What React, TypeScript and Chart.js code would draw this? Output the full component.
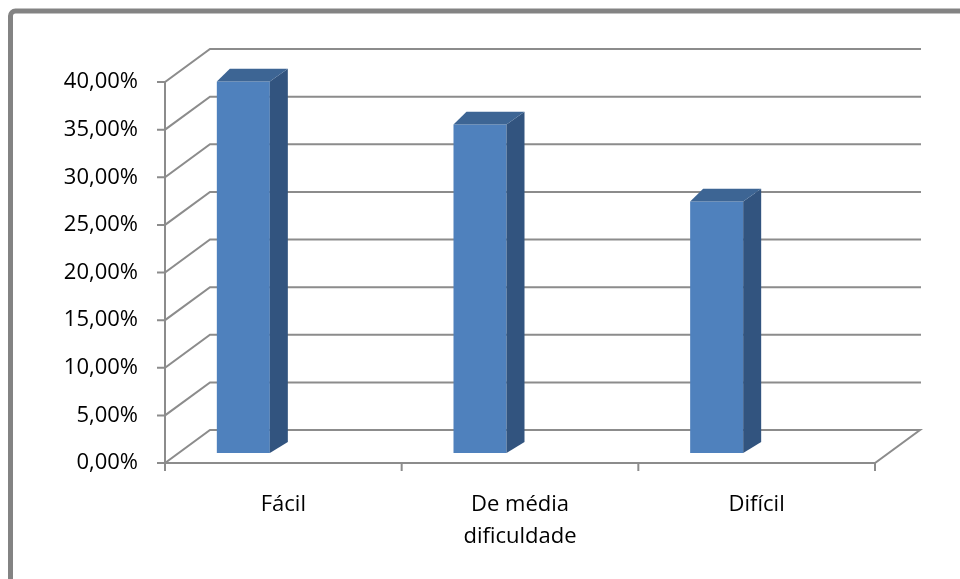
import React, { useEffect, useRef } from 'react';
import { Chart, registerables } from 'chart.js';

Chart.register(...registerables);

const categories: (string | string[])[] = ['Fácil', ['De média', 'dificuldade'], 'Difícil'];
const values: number[] = [39.0, 34.5, 26.4];
const yMin = 0;
const yMax = 40;
const yStep = 5;

const DEPTH_X = 45;
const DEPTH_Y = -33;
const BAR_SHIFT_X = -40;
const BAR_SHIFT_Y = -10;
const GRID_COLOR = '#8c8c8c';
const FRONT_COLOR = '#4f81bd';
const SIDE_COLOR = '#32547f';
const TOP_COLOR = '#3d6594';

const fmt = (v: number) => v.toFixed(2).replace('.', ',') + '%';

const threeD = {
  id: 'threeD',
  beforeDraw(chart: any) {
    const ctx = chart.ctx;
    ctx.save();
    ctx.fillStyle = '#ffffff';
    ctx.fillRect(0, 0, chart.width, chart.height);
    ctx.strokeStyle = '#838383';
    ctx.lineWidth = 5;
    ctx.beginPath();
    ctx.roundRect(10.5, 11, chart.width + 20, chart.height + 20, 5);
    ctx.stroke();
    ctx.restore();
  },
  beforeDatasetsDraw(chart: any) {
    const { ctx, chartArea: a, scales } = chart;
    const x = scales.x;
    const y = scales.y;
    ctx.save();
    ctx.strokeStyle = GRID_COLOR;
    ctx.lineWidth = 2;
    ctx.lineJoin = 'miter';
    y.ticks.forEach((t: any) => {
      const py = y.getPixelForValue(t.value);
      ctx.beginPath();
      ctx.moveTo(a.left - 8, py);
      ctx.lineTo(a.left, py);
      ctx.lineTo(a.left + DEPTH_X, py + DEPTH_Y);
      ctx.lineTo(a.right + DEPTH_X + (t.value === 0 ? 0 : 1), py + DEPTH_Y);
      if (t.value === 0) {
        ctx.lineTo(a.right, py);
        ctx.lineTo(a.left, py);
      }
      ctx.stroke();
    });
    ctx.beginPath();
    ctx.moveTo(a.left, a.bottom + 8);
    ctx.lineTo(a.left, y.getPixelForValue(yMax));
    ctx.stroke();
    for (let i = 0; i <= categories.length; i++) {
      const px = x.getPixelForValue(i - 0.5);
      ctx.beginPath();
      ctx.moveTo(px, a.bottom);
      ctx.lineTo(px, a.bottom + 8);
      ctx.stroke();
    }
    ctx.restore();
    ctx.save();
    ctx.translate(BAR_SHIFT_X, BAR_SHIFT_Y);
  },
  afterDatasetsDraw(chart: any) {
    const ctx = chart.ctx;
    const meta = chart.getDatasetMeta(0);
    meta.data.forEach((el: any) => {
      const { x, y, base, width } = el.getProps(['x', 'y', 'base', 'width'], true);
      const L = x - width / 2;
      const R = x + width / 2;
      const T = y;
      const B = base;
      ctx.fillStyle = SIDE_COLOR;
      ctx.beginPath();
      ctx.moveTo(R, T);
      ctx.lineTo(R + 18, T - 12.7);
      ctx.lineTo(R + 18, B - 11);
      ctx.lineTo(R, B);
      ctx.closePath();
      ctx.fill();
      ctx.fillStyle = TOP_COLOR;
      ctx.beginPath();
      ctx.moveTo(L, T);
      ctx.lineTo(L + 13, T - 12.7);
      ctx.lineTo(R + 18, T - 12.7);
      ctx.lineTo(R, T);
      ctx.closePath();
      ctx.fill();
    });
    ctx.restore();
  },
};

export default function App() {
  const ref = useRef<HTMLCanvasElement | null>(null);
  useEffect(() => {
    document.body.style.margin = '0';
    if (!ref.current) return;
    const chart = new Chart(ref.current, {
      type: 'bar',
      data: {
        labels: categories as any,
        datasets: [
          {
            data: values,
            backgroundColor: FRONT_COLOR,
            borderWidth: 0,
            barPercentage: 0.224,
            categoryPercentage: 1,
            clip: false as any,
          },
        ],
      },
      options: {
        responsive: false,
        animation: false,
        devicePixelRatio: 1,
        layout: { padding: { left: 0, right: 85, top: 82, bottom: 0 } },
        plugins: { legend: { display: false }, tooltip: { enabled: false }, title: { display: false } },
        scales: {
          x: {
            grid: { display: false, drawTicks: false },
            border: { display: false },
            ticks: {
              color: '#000',
              padding: 25,
              font: { family: 'Open Sans', size: 22, lineHeight: 1.48 },
            },
            afterFit: (s: any) => {
              s.height = 116;
            },
          },
          y: {
            min: yMin,
            max: yMax,
            grid: { display: false, drawTicks: false },
            border: { display: false },
            ticks: {
              stepSize: yStep,
              color: '#000',
              padding: 27,
              font: { family: 'Open Sans', size: 22 },
              callback: (v: any) => fmt(Number(v)),
            },
            afterFit: (s: any) => {
              s.width = 165;
            },
          },
        },
      },
      plugins: [threeD],
    });
    return () => chart.destroy();
  }, []);
  return (
    <div style={{ position: 'relative', width: 960, height: 579 }}>
      <canvas ref={ref} width={960} height={579} />
    </div>
  );
}
